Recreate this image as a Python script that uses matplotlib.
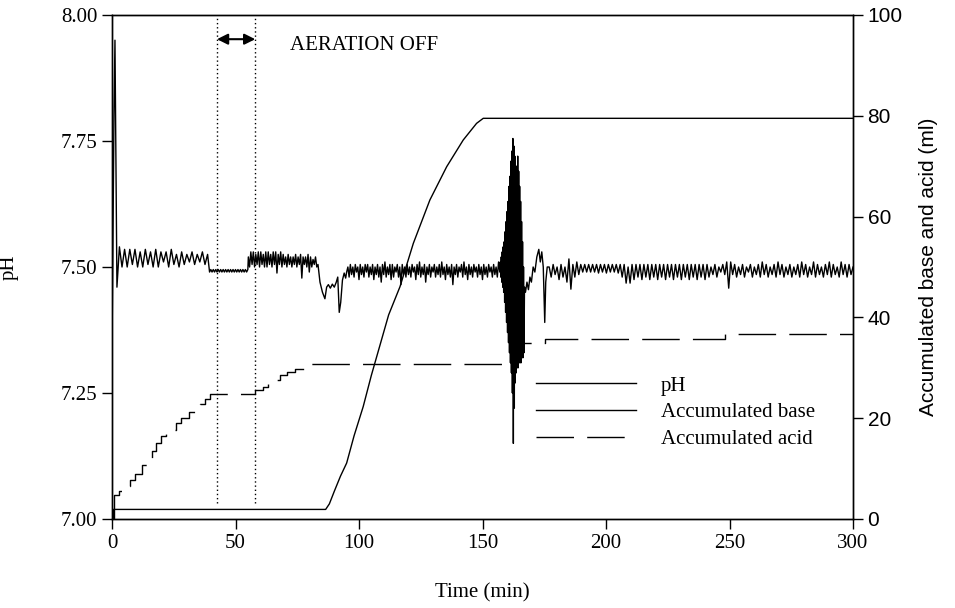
import matplotlib.pyplot as plt
import matplotlib as mpl
import numpy as np

mpl.rcParams.update({
    'font.family': 'serif',
    'font.serif': ['Liberation Serif', 'DejaVu Serif'],
    'font.size': 15,
    'axes.linewidth': 1.0,
})

# ---- pH record (segment by segment) ----
ph_start_t = [0, 0.3, 0.8, 1.2, 1.6, 2.0, 2.5]
ph_start = [7.33, 7.50, 7.80, 7.95, 7.70, 7.46, 7.50]

# 3 - 38.7 min, normal control
ph_b = [7.54, 7.50, 7.535, 7.50, 7.535, 7.505, 7.535, 7.50, 7.53, 7.50, 7.535, 7.505,
        7.53, 7.50, 7.535, 7.50, 7.53, 7.51, 7.53, 7.50, 7.535, 7.505, 7.525, 7.50,
        7.53, 7.505, 7.525, 7.51, 7.53, 7.505, 7.525, 7.51, 7.53, 7.505, 7.525]

# 39.5 - 55 min, aeration off
ph_c = [7.49, 7.495] * 16

# 55.2 - 83.4 min
ph_d = [7.52, 7.50, 7.53, 7.505, 7.53, 7.50, 7.525, 7.505, 7.53, 7.50, 7.53, 7.505,
        7.525, 7.50, 7.53, 7.50, 7.53, 7.505, 7.525,
        7.50, 7.53, 7.505, 7.53, 7.488, 7.525, 7.505, 7.53, 7.50, 7.525, 7.505, 7.52,
        7.50, 7.525, 7.505, 7.52, 7.50, 7.52, 7.505,
        7.525, 7.50, 7.52, 7.505, 7.525, 7.478, 7.52, 7.505, 7.52, 7.50, 7.525, 7.49,
        7.52, 7.50, 7.515, 7.505, 7.52, 7.50, 7.505]

# 84 - 94.5 min, dips
ph_e_t = [84.2, 85.2, 86.2, 86.9, 87.6, 88.4, 89.2, 90.0, 90.8, 91.4, 92.0, 92.6, 93.3, 94.0, 94.6]
ph_e = [7.47, 7.45, 7.437, 7.46, 7.465, 7.458, 7.466, 7.46, 7.47, 7.48, 7.41, 7.43, 7.474, 7.488, 7.478]

# 95 - 157 min
ph_f = [7.49, 7.50, 7.48, 7.505, 7.485, 7.50, 7.48, 7.505, 7.49, 7.50, 7.475, 7.505, 7.485,
        7.50, 7.48, 7.505, 7.49, 7.505, 7.48, 7.50, 7.485, 7.505, 7.475, 7.50, 7.485,
        7.505, 7.48, 7.50, 7.47, 7.505, 7.485, 7.51, 7.48, 7.50, 7.485, 7.505, 7.475, 7.505,
        7.48, 7.50, 7.49, 7.505, 7.48, 7.50, 7.465, 7.505, 7.485, 7.50, 7.48, 7.505,
        7.485, 7.50, 7.48, 7.505, 7.49, 7.50, 7.475, 7.505, 7.485, 7.51, 7.48, 7.50, 7.485,
        7.505, 7.47, 7.50, 7.485, 7.505, 7.48, 7.50, 7.49, 7.505, 7.48, 7.50, 7.485,
        7.505, 7.48, 7.51, 7.485, 7.50, 7.475, 7.505, 7.485, 7.50, 7.48, 7.505, 7.465, 7.50,
        7.485, 7.505, 7.48, 7.50, 7.49, 7.505, 7.48, 7.51, 7.485, 7.50, 7.475, 7.505,
        7.485, 7.50, 7.48, 7.505, 7.49, 7.50, 7.48, 7.505, 7.485, 7.50, 7.475, 7.505, 7.485,
        7.50, 7.48, 7.505, 7.49, 7.50, 7.48, 7.505, 7.485, 7.50, 7.48, 7.51, 7.49]

# 157 - 167 min, unstable control
ph_g = [7.51, 7.48, 7.52, 7.47, 7.53, 7.46, 7.54, 7.45, 7.55, 7.43, 7.57, 7.41, 7.59,
        7.39, 7.61, 7.37, 7.63, 7.35, 7.66, 7.33, 7.68, 7.31, 7.71, 7.29, 7.73, 7.25,
        7.755, 7.15, 7.74, 7.22, 7.72, 7.27, 7.70, 7.29, 7.70, 7.30, 7.72, 7.30, 7.69,
        7.31, 7.66, 7.31, 7.63, 7.31, 7.59, 7.32, 7.55, 7.32, 7.50, 7.33, 7.46]

# 167 - 176.4 min, recovery
ph_h_t = [167.4, 168.0, 168.6, 169.2, 169.8, 170.5, 171.2, 172.0, 172.8, 173.4, 174.0, 174.6, 175.2, 175.6, 176.2]
ph_h = [7.45, 7.47, 7.455, 7.48, 7.47, 7.50, 7.49, 7.52, 7.535, 7.51, 7.53, 7.50, 7.39, 7.47, 7.50]

# 177 - 300 min
ph_i = [7.50, 7.48, 7.505, 7.485, 7.50, 7.475, 7.505, 7.48, 7.50, 7.47, 7.516, 7.456, 7.505, 7.48,
        7.51, 7.485, 7.505, 7.49, 7.505, 7.49,
        7.505, 7.49, 7.505, 7.49, 7.505, 7.488, 7.505, 7.49, 7.505, 7.488, 7.505, 7.49, 7.505,
        7.49, 7.505, 7.488, 7.505, 7.48, 7.505, 7.468,
        7.50, 7.468, 7.505, 7.475, 7.505, 7.48, 7.505, 7.475, 7.505, 7.48, 7.505, 7.475, 7.505,
        7.48, 7.505, 7.475, 7.505, 7.48, 7.505, 7.475,
        7.505, 7.48, 7.505, 7.475, 7.505, 7.48, 7.505, 7.475, 7.505, 7.48, 7.505, 7.475, 7.505,
        7.48, 7.505, 7.475, 7.505, 7.48, 7.505, 7.475,
        7.505, 7.48, 7.50, 7.485, 7.505, 7.48, 7.50, 7.49, 7.505, 7.485, 7.51, 7.458, 7.51,
        7.485, 7.505, 7.48, 7.50, 7.485, 7.505, 7.48,
        7.50, 7.49, 7.505, 7.48, 7.50, 7.485, 7.505, 7.48, 7.51, 7.485, 7.505, 7.48, 7.50,
        7.485, 7.505, 7.48, 7.51, 7.485, 7.505, 7.48,
        7.50, 7.485, 7.505, 7.48, 7.50, 7.485, 7.505, 7.48, 7.51, 7.485, 7.505, 7.48, 7.50,
        7.485, 7.51, 7.48, 7.505, 7.485, 7.50, 7.48,
        7.505, 7.485, 7.51, 7.48, 7.505, 7.485, 7.50, 7.48, 7.51, 7.485, 7.505, 7.48, 7.505,
        7.485, 7.50]

ph_t = np.concatenate([ph_start_t,
                       np.linspace(3.0, 38.7, len(ph_b)),
                       np.linspace(39.5, 55.0, len(ph_c)),
                       np.linspace(55.2, 83.4, len(ph_d)),
                       ph_e_t,
                       np.linspace(95.0, 157.0, len(ph_f)),
                       np.linspace(157.2, 167.0, len(ph_g)),
                       ph_h_t,
                       np.linspace(177.0, 300.0, len(ph_i))])
ph = np.concatenate([ph_start, ph_b, ph_c, ph_d, ph_e, ph_f, ph_g, ph_h, ph_i])

# ---- accumulated base (ml) ----
base_t = [0, 0.5, 0.6, 86.5, 88, 90, 92.5, 95, 98, 101.7, 105, 108.5, 112, 116.6, 122,
          128.7, 135.5, 142.2, 147.6, 150.3, 300]
base_v = [0, 0, 1.9, 1.9, 3, 5.5, 8.5, 11.1, 16.5, 22.3, 28.5, 34.5, 40.5, 46.1, 54.7,
          63.3, 69.9, 75.2, 78.5, 79.5, 79.5]

# ---- accumulated acid (ml), stepwise ----
acid_t = [0, 1.0, 3.0, 5.0, 7.3, 9.5, 12, 14, 16, 18, 20, 22, 24, 26, 28, 31, 33.5, 35.6,
          37.5, 39.7, 58, 61.3, 63.3, 65.3, 68, 71, 74, 79.5, 164, 175.3, 248.2, 300]
acid_v = [0, 4.8, 5.5, 6.5, 7.7, 9, 10.7, 12, 13.5, 15, 16.5, 17.2, 17.7, 19, 20, 21.3,
          22, 22.8, 23.8, 24.8, 25.6, 26.2, 27, 27.6, 28.5, 29.2, 29.8, 30.8, 34.9, 35.7,
          36.7, 36.7]

aer_on, aer_off = 42.5, 58.0

fig = plt.figure(figsize=(9.55, 6.08), dpi=100)
ax = fig.add_axes([112 / 955, 89 / 608, 741 / 955, 504 / 608])
ax2 = ax.twinx()

l1, = ax.plot(ph_t, ph, color='k', lw=1.0, label='pH')
l2, = ax2.plot(base_t, base_v, color='k', lw=1.0, label='Accumulated base')
l3, = ax2.plot(acid_t, acid_v, color='k', lw=1.0, drawstyle='steps-post',
               dashes=(27, 9.5), label='Accumulated acid')

# aeration-off window
for xv in (aer_on, aer_off):
    ax.plot([xv, xv], [7.032, 8.0], color='k', lw=1.0, linestyle=(0, (1, 2)))
ax.annotate('', xy=(aer_on, 7.952), xytext=(aer_off, 7.952),
            arrowprops=dict(arrowstyle='<|-|>', color='k', lw=1.5,
                            mutation_scale=16, shrinkA=0, shrinkB=0))
ax.text(72, 7.94, 'AERATION OFF', ha='left', va='center')

ax.set_xlim(0, 300)
ax.set_ylim(7.0, 8.0)
ax2.set_ylim(0, 100)
ax.set_xticks(np.arange(0, 301, 50))
ax.set_yticks([7.0, 7.25, 7.5, 7.75, 8.0])
ax.set_yticklabels(['7.00', '7.25', '7.50', '7.75', '8.00'])
ax2.set_yticks(np.arange(0, 101, 20))
for a in (ax, ax2):
    a.tick_params(direction='out', length=7, width=1)
for lab in ax2.get_yticklabels():
    lab.set_family('Liberation Sans')

ax.set_xlabel('Time (min)', labelpad=22)
ax.set_ylabel('pH', labelpad=30)
ax2.set_ylabel('Accumulated base and acid (ml)', family='Liberation Sans', labelpad=12)

ax2.legend(handles=[l1, l2, l3], loc='upper left', bbox_to_anchor=(536 / 955, 1 - 376 / 608),
           bbox_transform=fig.transFigure,
           frameon=False, handlelength=4.8, handletextpad=1.2, labelspacing=0.35,
           borderpad=0, borderaxespad=0)

plt.savefig('out.png', dpi=100)
